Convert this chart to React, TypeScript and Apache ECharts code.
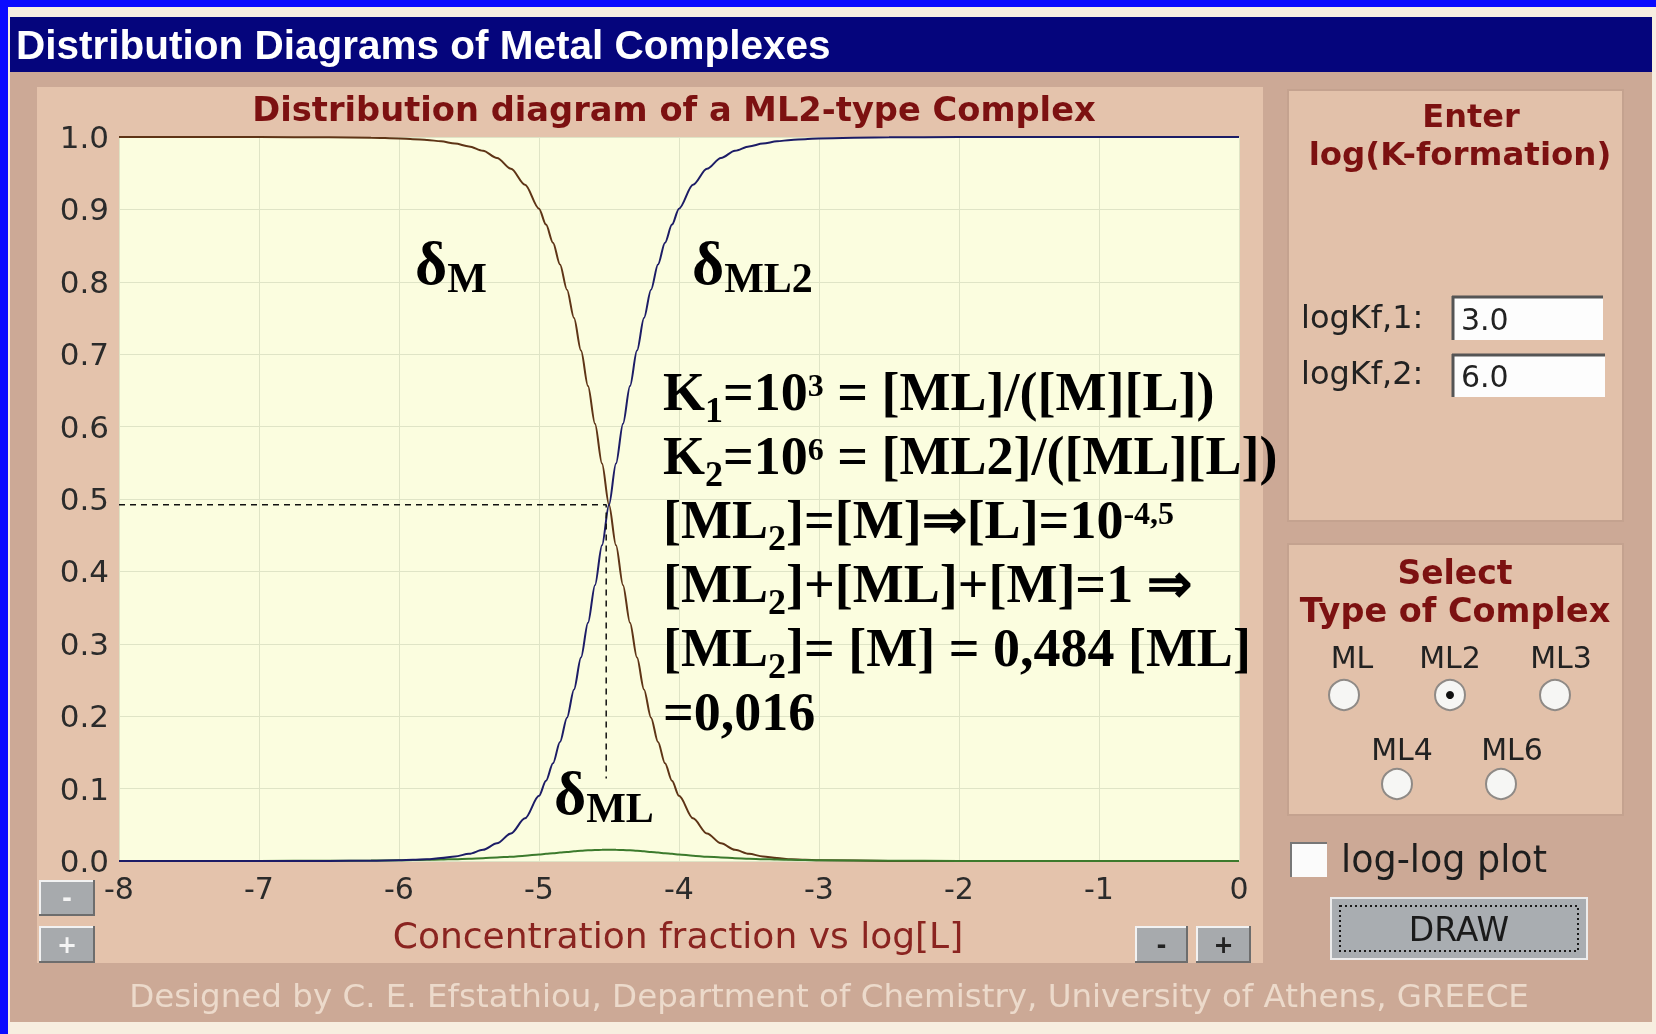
import React, { useEffect, useRef } from "react";
import * as echarts from "echarts";

// log[L] sample points and fractions
const logL = [-8, -7, -6.5, -6.2, -6, -5.9, -5.8, -5.7, -5.6, -5.5, -5.4, -5.3, -5.2, -5.1, -5.0, -4.95, -4.9, -4.85, -4.8, -4.75, -4.7, -4.65, -4.6, -4.55, -4.5, -4.45, -4.4, -4.35, -4.3, -4.25, -4.2, -4.15, -4.1, -4.05, -4.0, -3.9, -3.8, -3.7, -3.6, -3.5, -3.4, -3.3, -3.2, -3.1, -3.0, -2.5, -2, -1, 0];
const deltaM = [1.0, 1.0, 0.9996, 0.999, 0.998, 0.997, 0.996, 0.994, 0.991, 0.987, 0.981, 0.971, 0.956, 0.934, 0.901, 0.879, 0.854, 0.824, 0.789, 0.75, 0.705, 0.656, 0.604, 0.549, 0.492, 0.436, 0.381, 0.329, 0.281, 0.237, 0.198, 0.1644, 0.135, 0.1107, 0.09, 0.0589, 0.038, 0.0244, 0.0155, 0.0099, 0.0063, 0.004, 0.0025, 0.0016, 0.001, 0.0001, 0, 0, 0];
const deltaML = [0, 0.0001, 0.0003, 0.0006, 0.001, 0.0013, 0.0016, 0.002, 0.0025, 0.0031, 0.0039, 0.0049, 0.006, 0.0074, 0.009, 0.0099, 0.0108, 0.0116, 0.0125, 0.0133, 0.0141, 0.0147, 0.0152, 0.0155, 0.0156, 0.0155, 0.0152, 0.0147, 0.0141, 0.0133, 0.0125, 0.0116, 0.0108, 0.0099, 0.009, 0.0074, 0.006, 0.0049, 0.0039, 0.0031, 0.0025, 0.002, 0.0016, 0.0013, 0.001, 0.0003, 0.0001, 0, 0];
const deltaML2 = [0, 0, 0.0001, 0.0004, 0.001, 0.0016, 0.0025, 0.004, 0.0063, 0.0099, 0.0155, 0.0244, 0.0381, 0.0589, 0.09, 0.1107, 0.135, 0.1644, 0.198, 0.237, 0.281, 0.329, 0.381, 0.436, 0.492, 0.549, 0.604, 0.656, 0.705, 0.75, 0.789, 0.824, 0.854, 0.879, 0.901, 0.934, 0.956, 0.971, 0.981, 0.987, 0.991, 0.994, 0.996, 0.997, 0.998, 0.9996, 1.0, 1.0, 1.0];

// dashed guide (log[L], fraction)
const guideX = [-8, -4.52, -4.52];
const guideY = [0.492, 0.492, 0.114];

const xTicks = { min: -8, max: 0, step: 1 };
const yTicks = { min: 0, max: 1, step: 0.1 };

const formulaLines = [
  "K{sub|1}=10{sup|3} = [ML]/([M][L])",
  "K{sub|2}=10{sup|6} = [ML2]/([ML][L])",
  "[ML{sub|2}]=[M]⇒[L]=10{sup|-4,5}",
  "[ML{sub|2}]+[ML]+[M]=1 ⇒",
  "[ML{sub|2}]= [M] = 0,484 [ML]",
  "=0,016",
];

const SERIF = "Liberation Serif";
const SANS = "DejaVu Sans";

function rect(x: number, y: number, w: number, h: number, style: any, z = -10) {
  return { type: "rect", z, silent: true, shape: { x, y, width: w, height: h }, style };
}
function text(x: number, y: number, t: string, size: number, fill: string, opts: any = {}, z = -5) {
  return {
    type: "text",
    z,
    silent: true,
    x,
    y,
    style: {
      text: t,
      fill,
      fontSize: size,
      fontFamily: opts.family || SANS,
      fontWeight: opts.weight || "normal",
      align: opts.align || "left",
      verticalAlign: opts.valign || "middle",
    },
  };
}
function line(x1: number, y1: number, x2: number, y2: number, stroke: string, w = 2, z = -4) {
  return { type: "line", z, silent: true, shape: { x1, y1, x2, y2 }, style: { stroke, lineWidth: w } };
}
function button(x: number, y: number, w: number, h: number, label: string, color: string) {
  return [
    rect(x, y, w, h, { fill: "#a7aaad" }, -6),
    line(x, y + 1, x + w, y + 1, "#f2f2f2", 2, -5),
    line(x + 1, y, x + 1, y + h, "#f2f2f2", 2, -5),
    line(x, y + h - 1, x + w, y + h - 1, "#6d6d6d", 2, -5),
    line(x + w - 1, y, x + w - 1, y + h, "#6d6d6d", 2, -5),
    text(x + w / 2, y + h / 2, label, 24, color, { align: "center", weight: "bold" }),
  ];
}
function radio(cx: number, cy: number, selected: boolean) {
  const els: any[] = [
    { type: "circle", z: -5, silent: true, shape: { cx, cy, r: 15 }, style: { fill: "#f6f6f4", stroke: "#8f8a86", lineWidth: 2 } },
  ];
  if (selected) els.push({ type: "circle", z: -4, silent: true, shape: { cx, cy, r: 4 }, style: { fill: "#111" } });
  return els;
}
function inputBox(x: number, y: number, w: number, h: number, val: string) {
  return [
    rect(x, y, w, h, { fill: "#fdfdfd" }, -6),
    line(x, y + 1, x + w, y + 1, "#555", 3, -5),
    line(x + 1, y, x + 1, y + h, "#555", 3, -5),
    text(x + 9, y + h / 2 + 1, val, 30, "#222"),
  ];
}

function deltaLabel(x: number, y: number, sub: string) {
  return {
    type: "text",
    z: 30,
    silent: true,
    x,
    y,
    style: {
      text: "{d|δ}{s|" + sub + "}",
      align: "left",
      verticalAlign: "middle",
      fill: "#000",
      fontFamily: SERIF,
      fontWeight: "bold",
      fontSize: 60,
      lineHeight: 80,
      rich: {
        d: { fontFamily: SERIF, fontWeight: "bold", fontSize: 62, lineHeight: 80, fill: "#000" },
        s: { fontFamily: SERIF, fontWeight: "bold", fontSize: 42, lineHeight: 80, fill: "#000", padding: [30, 0, 0, 0] },
      },
    },
  };
}

export default function App() {
  const ref = useRef<HTMLDivElement>(null);
  useEffect(() => {
    if (!ref.current) return;
    const chart = echarts.init(ref.current, undefined, { renderer: "svg" });
    const pts = (ys: number[]) => logL.map((x, i) => [x, ys[i]]);

    const graphic: any[] = [
      rect(0, 0, 1656, 1034, { fill: "#f7eee0" }, -30),
      rect(0, 0, 1656, 7, { fill: "#0a0aff" }, -29),
      rect(0, 0, 8, 1034, { fill: "#0a0aff" }, -29),
      rect(10, 17, 1642, 55, { fill: "#05057c" }, -28),
      rect(10, 72, 1642, 950, { fill: "#cca996" }, -28),
      rect(37, 87, 1226, 876, { fill: "#e4c3ac" }, -27),
      rect(1288, 90, 335, 431, { fill: "#e2c1aa", stroke: "#c4a28f", lineWidth: 2 }, -27),
      rect(1288, 544, 335, 271, { fill: "#e2c1aa", stroke: "#c4a28f", lineWidth: 2 }, -27),
      text(16, 45, "Distribution Diagrams of Metal Complexes", 40.5, "#ffffff", { family: "Liberation Sans", weight: "bold" }),
      text(674, 109, "Distribution diagram of a ML2-type Complex", 33.7, "#7c1111", { weight: "bold", align: "center" }),
      text(678, 935, "Concentration fraction vs log[L]", 36, "#8a2420", { align: "center" }),
      text(829, 996, "Designed by C. E. Efstathiou, Department of Chemistry, University of Athens, GREECE", 32.5, "#ecdacb", { align: "center" }),
      ...button(39, 880, 56, 36, "-", "#f4f4f4"),
      ...button(39, 926, 56, 37, "+", "#f4f4f4"),
      ...button(1135, 926, 53, 37, "-", "#222"),
      ...button(1196, 926, 55, 37, "+", "#222"),
      text(1471, 116, "Enter", 32, "#7c1111", { weight: "bold", align: "center" }),
      text(1460, 154, "log(K-formation)", 32.5, "#7c1111", { weight: "bold", align: "center" }),
      text(1301, 317, "logKf,1:", 32, "#222"),
      text(1301, 373, "logKf,2:", 32, "#222"),
      ...inputBox(1452, 296, 151, 44, "3.0"),
      ...inputBox(1452, 354, 153, 43, "6.0"),
      text(1455, 572, "Select", 33, "#7c1111", { weight: "bold", align: "center" }),
      text(1455, 610, "Type of Complex", 33.5, "#7c1111", { weight: "bold", align: "center" }),
      text(1352, 657, "ML", 30, "#222", { align: "center" }),
      text(1450, 657, "ML2", 30, "#222", { align: "center" }),
      text(1561, 657, "ML3", 30, "#222", { align: "center" }),
      text(1402, 749, "ML4", 30, "#222", { align: "center" }),
      text(1512, 749, "ML6", 30, "#222", { align: "center" }),
      ...radio(1344, 695, false),
      ...radio(1450, 695, true),
      ...radio(1555, 695, false),
      ...radio(1397, 784, false),
      ...radio(1501, 784, false),
      rect(1290, 842, 37, 35, { fill: "#fbfbfb" }, -6),
      line(1290, 843, 1327, 843, "#777", 2, -5),
      line(1291, 842, 1291, 877, "#777", 2, -5),
      text(1341, 859, "log-log plot", 36.5, "#1e1e1e"),
      rect(1331, 898, 256, 61, { fill: "#a9adb1", stroke: "#ececec", lineWidth: 2 }, -6),
      rect(1340, 906, 238, 45, { fill: "none", stroke: "#1a1a1a", lineWidth: 2, lineDash: [2, 3] }, -5),
      text(1459, 929, "DRAW", 33, "#1a1a1a", { align: "center" }),
      {
        type: "text",
        z: 30,
        silent: true,
        x: 663,
        y: 360,
        style: {
          text: formulaLines.join("\n"),
          align: "left",
          verticalAlign: "top",
          fill: "#000",
          fontFamily: SERIF,
          fontWeight: "bold",
          fontSize: 54,
          lineHeight: 64,
          rich: {
            sub: { fontFamily: SERIF, fontWeight: "bold", fontSize: 36, lineHeight: 64, fill: "#000", padding: [36, 0, 0, 0] },
            sup: { fontFamily: SERIF, fontWeight: "bold", fontSize: 32, lineHeight: 64, fill: "#000", padding: [0, 0, 14, 0] },
          },
        },
      },
      deltaLabel(415, 263, "M"),
      deltaLabel(692, 263, "ML2"),
      deltaLabel(554, 793, "ML"),
    ];

    const option: any = {
      animation: false,
      grid: { left: 119, top: 137, width: 1120, height: 724, show: true, backgroundColor: "#fbfddf", borderWidth: 0 },
      xAxis: {
        type: "value",
        min: xTicks.min,
        max: xTicks.max,
        interval: xTicks.step,
        axisLine: { show: false },
        axisTick: { show: false },
        splitLine: { show: true, lineStyle: { color: "#dfe4c6", width: 1 } },
        axisLabel: { fontFamily: SANS, fontSize: 30, color: "#2b2b2b", margin: 12 },
      },
      yAxis: {
        type: "value",
        min: yTicks.min,
        max: yTicks.max,
        interval: yTicks.step,
        axisLine: { show: false },
        axisTick: { show: false },
        splitLine: { show: true, lineStyle: { color: "#dfe4c6", width: 1 } },
        axisLabel: { fontFamily: SANS, fontSize: 31, color: "#2b2b2b", margin: 10, formatter: (v: number) => v.toFixed(1) },
      },
      series: [
        { type: "line", name: "δM", data: pts(deltaM), showSymbol: false, smooth: 0.3, smoothMonotone: "x", lineStyle: { color: "#5e3416", width: 2 }, z: 3 },
        { type: "line", name: "δML", data: pts(deltaML), showSymbol: false, smooth: 0.3, smoothMonotone: "x", lineStyle: { color: "#3c7a2c", width: 2 }, z: 4 },
        { type: "line", name: "δML2", data: pts(deltaML2), showSymbol: false, smooth: 0.3, smoothMonotone: "x", lineStyle: { color: "#1c1c66", width: 2 }, z: 5 },
        {
          type: "line",
          name: "guide",
          data: guideX.map((x, i) => [x, guideY[i]]),
          showSymbol: false,
          lineStyle: { color: "#111", width: 1.5, type: [6, 5] },
          z: 6,
        },
      ],
      graphic,
    };
    chart.setOption(option);
    return () => chart.dispose();
  }, []);
  return <div ref={ref} style={{ position: "fixed", left: 0, top: 0, width: 1656, height: 1034 }} />;
}
